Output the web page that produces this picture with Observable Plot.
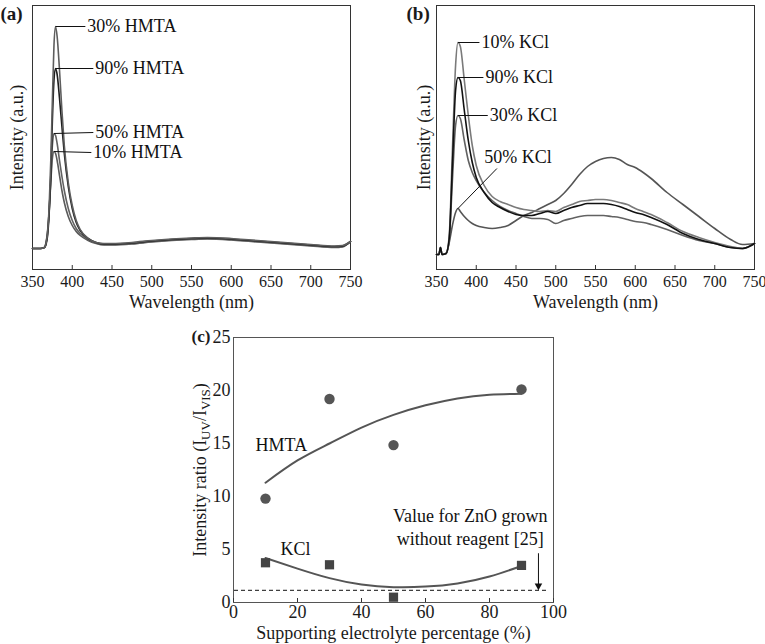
<!DOCTYPE html>
<html><head><meta charset="utf-8">
<script src="https://cdn.jsdelivr.net/npm/d3@7"></script>
<script src="https://cdn.jsdelivr.net/npm/@observablehq/plot@0.6"></script>
<style>
html,body{margin:0;padding:0;background:#fff;}
#wrap{position:relative;width:765px;height:644px;overflow:hidden;background:#fff;font-family:'Liberation Serif','Times New Roman',serif;}
.panel{position:absolute;}
.panel svg{font-family:'Liberation Serif','Times New Roman',serif !important;overflow:visible;}
</style></head><body><div id="wrap">
<div id="pa" class="panel" style="left:0;top:0"></div>
<div id="pb" class="panel" style="left:380px;top:0"></div>
<div id="pc" class="panel" style="left:180px;top:320px"></div>
</div>
<script>
// ---------- Panel (a): PL spectra, HMTA ----------
const wlA = [350,360,365,367,369,371,373,375,377,379,381,384,387,390,395,400,405,410,420,430,440,450,475,500,525,550,570,600,625,650,675,700,730,740,750];
const hmta30 = [21,21,22,26,37,64,109,169,224,243,233,199,159,124,87,64,49,40,31,27,26,26,27,29,30.5,31.5,32,31,29.5,28,26.5,25,23.5,24,28];
const hmta90 = [21,21,22,25,34,57,94,149,189,201,195,171,143,116,83,61,47,39,31,27,25.5,25.5,26.5,28.5,30,31,31.5,30.5,29,27.5,26,24.5,23,23.5,28];
const hmta50 = [21,21,22,26,37,59,91,124,136,134,126,109,93,79,61,49,41,36,30,26.5,25,25,26,28,29.5,30.5,31,30,28.5,27,25.5,24,22.5,23,28];
const hmta10 = [21,21,22,27,39,59,87,111,118,116,109,94,79,67,53,44,38,34,29,26,24.5,24.5,25.5,27.5,29,30,30.5,29.5,28,26.5,25,23.5,22,22.5,28];
const namesA = ["10% HMTA","50% HMTA","90% HMTA","30% HMTA"];
const valuesA = [hmta10, hmta50, hmta90, hmta30];
const colorsA = ["#5a5a5a","#626262","#1e1e1e","#5e5e5e"];
const annoA = [
  {name:"30% HMTA", lineX:416.5, y:243},
  {name:"90% HMTA", lineX:426.5, y:201},
  {name:"50% HMTA", lineX:426.5, y:137},
  {name:"10% HMTA", lineX:424, y:117}
];

// ---------- Panel (b): PL spectra, KCl ----------
const wlB = [350,353,355,357,362,366,370,374,377,380,385,390,395,400,410,420,430,440,450,460,470,480,490,500,510,520,530,540,550,560,570,580,590,600,610,620,640,660,680,700,720,735,750];
const kcl10 = [15,15,22,15,16,34,119,204,227,223,189,154,124,104,84,73,68,65,62,60,59,58,59,58,62,65,68,69,70,70,69,67,65,61,58,55,47,38,32,27,23,21,26];
const kcl90 = [15,15,22,15,16,31,104,179,192,189,159,129,107,92,77,67,62,58,55,54,54,56,58,56,59,62,64,66,66,66,65,63,60,57,55,52,45,36,30,26,22,21,26];
const kcl30 = [15,15,22,15,16,29,89,144,154,151,129,109,97,89,77,69,63,59,56,53,51,51,50,46,49,51,53,54,54,54,53,52,50,48,47,45,40,34,29,26,22,21,26];
const kcl50 = [15,15,22,15,16,27,44,57,61,58,53,49,46,44,42,41,42,44,49,54,57,61,65,69,76,85,95,103,108,111,112,110,105,102,97,91,77,65,53,41,30,25,26];
const namesB = ["50% KCl","30% KCl","10% KCl","90% KCl"];
const valuesB = [kcl50, kcl30, kcl10, kcl90];
const colorsB = ["#555555","#626262","#7a7a7a","#111111"];
const annoB = [
  {name:"10% KCl", lineX:404, lineY:227, textX:404, textY:227},
  {name:"90% KCl", lineX:409, lineY:192, textX:409, textY:192},
  {name:"30% KCl", lineX:414.5, lineY:154, textX:414.5, textY:154},
  {name:"50% KCl", lineX:426, lineY:101, textX:407.5, textY:112}
];
const uvPeakMax = 400; // callouts point at the UV (near-band-edge) peak

const wlTicks = [350,400,450,500,550,600,650,700,750];
const wlLabel = "Wavelength (nm)";
const intLabel = "Intensity (a.u.)";

// ---------- Panel (c): intensity ratio ----------
const pct = [10,30,50,90];
const ratioHMTA = [9.8,19.2,14.85,20.1];
const ratioKCl = [3.75,3.56,0.5,3.5];
const fitX = [10,20,30,40,50,60,70,80,90];
const fitHMTA = [11.3,13.4,15.0,16.5,17.7,18.6,19.25,19.6,19.7];
const fitKCl = [4.2,3.2,2.3,1.7,1.45,1.5,1.8,2.45,3.45];
const noReagent = 1.15;
const arrowAnno = [{x:95.3, yFrom:4.6, yTo:1.2}];
const noteAnno = [{text:"Value for ZnO grown\nwithout reagent [25]", x:74, y:7.2}];
const seriesLabelsC = [{text:"HMTA", x:6.9, y:14.8},{text:"KCl", x:14.7, y:5.0}];
const pctTicks = [0,20,40,60,80,100];
const ratioTicks = [0,5,10,15,20,25];
const xLabelC = "Supporting electrolyte percentage (%)";
const yLabelC = "Intensity ratio (IUV/IVIS)";

const font = "'Liberation Serif','Times New Roman',serif";
const baseStyle = `font-family:${font};font-size:16px;color:#1a1a1a;background:transparent;overflow:visible;`;

function spectrumPanel(wl, names, values, colors, anno, panelLetter, opts) {
  const marks = [
    Plot.frame({stroke: "#333"}),
    Plot.tickX(wlTicks, {x: d => d, insetTop: opts.innerH - 4, stroke: "#333"}),
    Plot.axisX(wlTicks, {tickSize: 0, tickPadding: 6, label: null, fontSize: 16, fontFamily: font})
  ];
  names.forEach((n, k) => {
    const rows = wl.map((w, i) => ({wl: w, v: values[k][i]}));
    marks.push(Plot.line(rows, {x: "wl", y: "v", stroke: colors[k], strokeWidth: 1.6, curve: "monotone-x"}));
  });
  const peak = name => {
    const k = names.indexOf(name);
    const idx = d3.range(wl.length).filter(i => wl[i] <= uvPeakMax);
    const i = idx[d3.maxIndex(idx, j => values[k][j])];
    return {px: wl[i], py: values[k][i]};
  };
  const annoRows = anno.map(a => ({...a, ...peak(a.name)}));
  marks.push(
    Plot.link(annoRows, {x1: "px", y1: "py", x2: "lineX", y2: "lineY", stroke: "#111", strokeWidth: 1}),
    Plot.text(annoRows, {x: "textX", y: "textY", text: "name", textAnchor: "start", lineAnchor: "middle", dx: 2, fontSize: 18, fontFamily: font, fill: "#111"}),
    Plot.text([wlLabel], {text: d => d, frameAnchor: "bottom", textAnchor: "middle", lineAnchor: "middle", dy: 33, fontSize: 18, fontFamily: font}),
    Plot.text([intLabel], {text: d => d, frameAnchor: "left", textAnchor: "middle", lineAnchor: "middle", dx: opts.yLabelDx, rotate: -90, fontSize: 18, fontFamily: font}),
    Plot.text([panelLetter], {text: d => d, frameAnchor: "top-left", dx: opts.letterDx, dy: 8, textAnchor: "start", lineAnchor: "middle", fontWeight: "bold", fontSize: 19, fontFamily: font})
  );
  return Plot.plot({
    width: opts.width, height: 310,
    marginLeft: opts.ml, marginRight: opts.mr, marginTop: 5, marginBottom: 41,
    style: baseStyle,
    x: {domain: [350, 750]},
    y: {domain: [0, 264], axis: null},
    marks
  });
}

const annoArows = annoA.map(a => ({name: a.name, lineX: a.lineX, lineY: a.y, textX: a.lineX, textY: a.y}));
document.getElementById("pa").append(
  spectrumPanel(wlA, namesA, valuesA, colorsA, annoArows, "(a)", {width: 380, ml: 32, mr: 30, innerH: 264, yLabelDx: -15, letterDx: -32})
);
document.getElementById("pb").append(
  spectrumPanel(wlB, namesB, valuesB, colorsB, annoB, "(b)", {width: 385, ml: 56, mr: 11, innerH: 264, yLabelDx: -12, letterDx: -30})
);

// Panel (c)
const ptsH = pct.map((p, i) => ({p, r: ratioHMTA[i]}));
const ptsK = pct.map((p, i) => ({p, r: ratioKCl[i]}));
const fitH = fitX.map((p, i) => ({p, r: fitHMTA[i]}));
const fitK = fitX.map((p, i) => ({p, r: fitKCl[i]}));
const plotC = Plot.plot({
  width: 420, height: 324,
  marginLeft: 53, marginRight: 47, marginTop: 17, marginBottom: 42,
  style: baseStyle.replace("16px", "18px"),
  x: {domain: [0, 100]},
  y: {domain: [0, 25]},
  marks: [
    Plot.frame({stroke: "#555"}),
    Plot.tickX(pctTicks, {x: d => d, insetTop: 261, stroke: "#333"}),
    Plot.axisX(pctTicks, {tickSize: 0, tickPadding: 3, label: null, fontSize: 18, fontFamily: font}),
    Plot.axisY(ratioTicks, {tickSize: 0, tickPadding: 3, label: null, fontSize: 18, fontFamily: font}),
    Plot.ruleY([noReagent], {stroke: "#111", strokeWidth: 1, strokeDasharray: "4,3", insetLeft: 1, insetRight: 5}),
    Plot.ruleX(arrowAnno, {x: "x", y1: "yFrom", y2: "yTo", stroke: "#111", strokeWidth: 1}),
    Plot.dot(arrowAnno, {x: "x", y: "yTo", symbol: "triangle2", rotate: 180, r: 3.6, dy: -4, fill: "#111", stroke: "none"}),
    Plot.line(fitH, {x: "p", y: "r", curve: "natural", stroke: "#555", strokeWidth: 2}),
    Plot.line(fitK, {x: "p", y: "r", curve: "natural", stroke: "#555", strokeWidth: 2}),
    Plot.dot(ptsH, {x: "p", y: "r", r: 5.2, fill: "#555", symbol: "circle"}),
    Plot.dot(ptsK, {x: "p", y: "r", r: 5.2, fill: "#444", symbol: "square"}),
    Plot.text(seriesLabelsC, {x: "x", y: "y", text: "text", textAnchor: "start", lineAnchor: "middle", fontSize: 18, fontFamily: font, fill: "#111"}),
    Plot.text(noteAnno, {x: "x", y: "y", text: "text", lineAnchor: "middle", fontSize: 18, fontFamily: font, lineHeight: 1.3, fill: "#111"}),
    Plot.text([xLabelC], {text: d => d, frameAnchor: "bottom", textAnchor: "middle", lineAnchor: "middle", dy: 31, fontSize: 18, fontFamily: font}),
    Plot.text([yLabelC], {text: d => d, frameAnchor: "left", textAnchor: "middle", lineAnchor: "middle", dx: -33, rotate: -90, fontSize: 18, fontFamily: font}),
    Plot.text(["(c)"], {text: d => d, frameAnchor: "top-left", dx: -42, dy: -1, textAnchor: "start", lineAnchor: "middle", fontWeight: "bold", fontSize: 17, fontFamily: font})
  ]
});
document.getElementById("pc").append(plotC);
// subscripts for the y label of panel (c)
d3.select(plotC).selectAll("text").filter(function() { return this.textContent === yLabelC; })
  .each(function() {
    const t = d3.select(this);
    t.text(null);
    t.append("tspan").text("Intensity ratio (I");
    t.append("tspan").attr("dy", 4).attr("font-size", 13).text("UV");
    t.append("tspan").attr("dy", -4).text("/I");
    t.append("tspan").attr("dy", 4).attr("font-size", 13).text("VIS");
    t.append("tspan").attr("dy", -4).text(")");
  });
</script></body></html>
